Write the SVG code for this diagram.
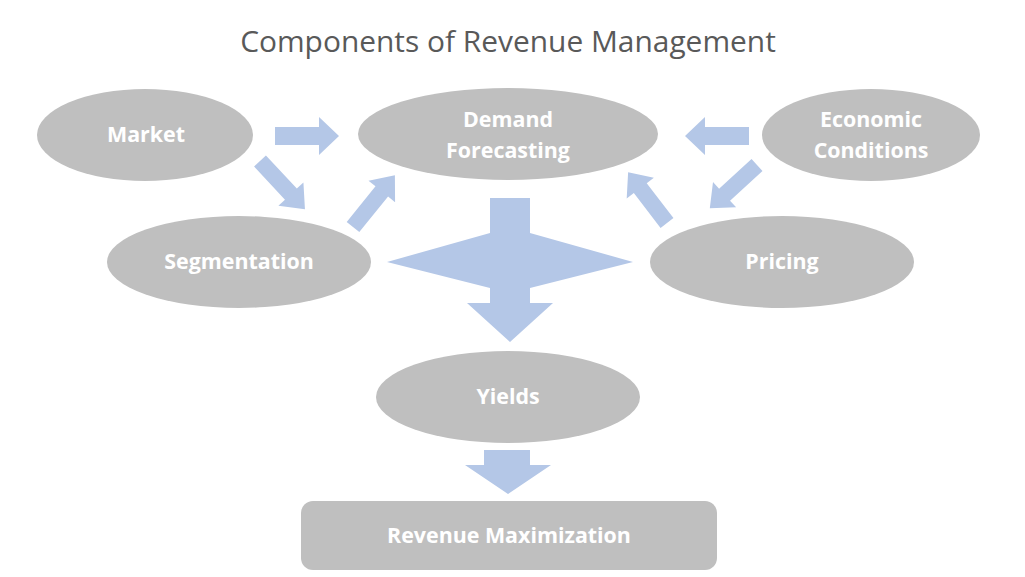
<svg xmlns="http://www.w3.org/2000/svg" xmlns:xlink="http://www.w3.org/1999/xlink" width="1025" height="577" viewBox="0 0 1025 577">
  <style>
    .node { fill: #BFBFBF; }
    .lbl { font-family: "Open Sans", "Liberation Sans", sans-serif; font-weight: bold; font-size: 21.4px; fill: #FFFFFF; text-anchor: middle; }
    .title { font-family: "Open Sans", "Liberation Sans", sans-serif; font-size: 29.9px; fill: #595959; text-anchor: middle; }
    .arrow { fill: #B4C7E7; }
  </style>
  <defs>
    <polygon id="arr" points="0,-9 44,-9 44,-19 64,0 44,19 44,9 0,9"/>
  </defs>
  <rect width="1025" height="577" fill="#FFFFFF"/>
  <text class="title" x="508" y="52">Components of Revenue Management</text>

  <g id="connectors" class="arrow">
    <use xlink:href="#arr" href="#arr" transform="translate(275,136)"/>
    <use xlink:href="#arr" href="#arr" transform="translate(749,136) rotate(180)"/>
    <use xlink:href="#arr" href="#arr" transform="translate(260,161) rotate(47) scale(1.03,0.9)"/>
    <use xlink:href="#arr" href="#arr" transform="translate(353,227) rotate(-51) scale(1.04,0.9)"/>
    <use xlink:href="#arr" href="#arr" transform="translate(667,223) rotate(-127.4) scale(1,0.9)"/>
    <use xlink:href="#arr" href="#arr" transform="translate(757,165) rotate(137.5) scale(1,0.9)"/>
    <polygon points="490,198 530,198 530,233 633,262 530,288 530,303 553,303 510,342 467,303 490,303 490,288 387,262 490,233"/>
    <polygon points="484,450 530,450 530,465 551,465 508,494 465,465 484,465"/>
  </g>

  <g id="market">
    <ellipse class="node" cx="145" cy="135" rx="108" ry="46"/>
    <text class="lbl" x="146" y="142">Market</text>
  </g>
  <g id="demand-forecasting">
    <ellipse class="node" cx="508" cy="134" rx="150" ry="46"/>
    <text class="lbl" x="508" y="127">Demand</text>
    <text class="lbl" x="508" y="158">Forecasting</text>
  </g>
  <g id="economic-conditions">
    <ellipse class="node" cx="871" cy="135" rx="109" ry="46"/>
    <text class="lbl" x="871" y="127">Economic</text>
    <text class="lbl" x="871" y="158">Conditions</text>
  </g>
  <g id="segmentation">
    <ellipse class="node" cx="239" cy="262" rx="132" ry="46"/>
    <text class="lbl" x="239" y="269">Segmentation</text>
  </g>
  <g id="pricing">
    <ellipse class="node" cx="782" cy="262" rx="132" ry="46"/>
    <text class="lbl" x="782" y="269">Pricing</text>
  </g>
  <g id="yields">
    <ellipse class="node" cx="508" cy="397" rx="132" ry="46"/>
    <text class="lbl" x="508" y="404">Yields</text>
  </g>
  <g id="revenue-maximization">
    <rect class="node" x="301" y="501" width="416" height="69" rx="12" ry="12"/>
    <text class="lbl" x="509" y="543">Revenue Maximization</text>
  </g>
</svg>
